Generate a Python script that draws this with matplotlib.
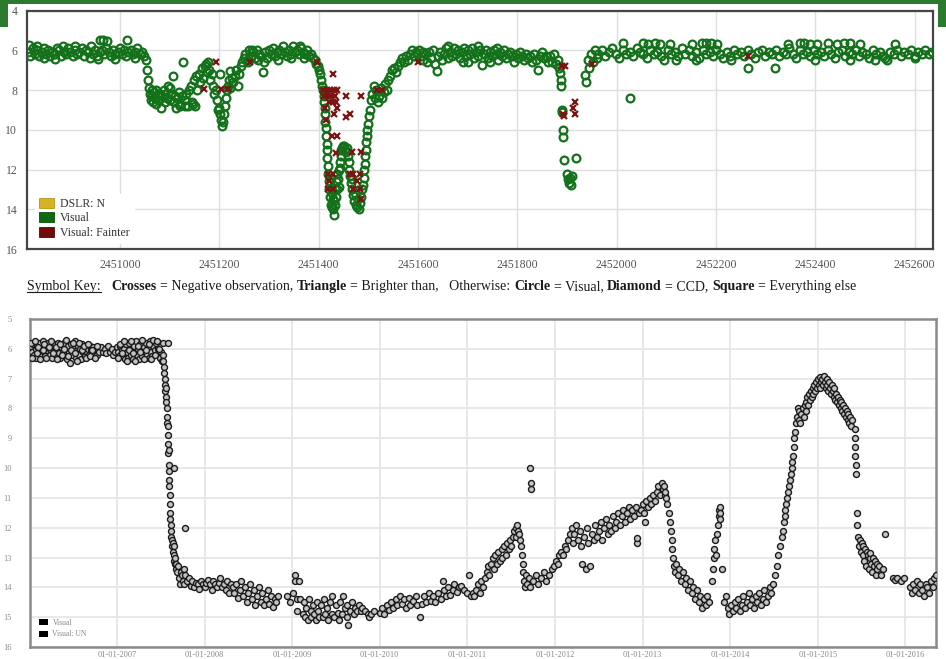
import numpy as np
import matplotlib
matplotlib.use("Agg")
import matplotlib.pyplot as plt
from matplotlib.patches import Patch, Rectangle

plt.rcParams['font.family'] = ['Liberation Serif', 'DejaVu Serif']

# ---------------- top light curve (JD - 2450000, magnitude) ----------------
JD0 = 2450000
vis_a = [(815, 6.1), (819, 6.3), (824, 5.9), (828, 6.2), (833, 6.0), (837, 6.3), (842, 6.1), (846, 5.9),
         (851, 6.2), (855, 6.0), (860, 6.3), (864, 6.1), (869, 6.2), (873, 5.9), (878, 6.0), (882, 6.3),
         (887, 6.1), (891, 6.2), (896, 5.9), (900, 6.1), (905, 6.3), (909, 6.0), (914, 6.2), (918, 6.1),
         (923, 5.9), (927, 6.3), (932, 6.0), (936, 6.1), (941, 5.8), (945, 6.2), (950, 6.0), (954, 6.3),
         (959, 6.1), (963, 6.0), (968, 6.2), (972, 5.9), (977, 6.1), (981, 6.3), (986, 6.0), (990, 6.2),
         (995, 6.1), (999, 5.9), (1004, 6.2), (1008, 6.0), (1013, 6.3), (1017, 6.1), (1022, 6.0),
         (1026, 6.2), (1031, 6.1), (1035, 5.9), (1040, 6.2), (1044, 6.1), (1048, 6.3),
         (817, 5.75), (832, 5.8), (846, 6.4), (870, 6.45), (910, 5.8), (955, 6.45), (960, 5.5),
         (966, 5.5), (974, 5.55), (990, 6.45), (1014, 5.5), (1030, 6.4), (885, 5.8), (940, 6.4)]
vis_b = [(1052, 6.5), (1054, 7.0), (1056, 7.5), (1058, 7.9), (1060, 8.2), (1062, 8.5), (1064, 8.3),
         (1066, 8.6), (1068, 8.1), (1070, 8.4), (1073, 8.7), (1076, 8.2), (1079, 8.5), (1082, 8.9),
         (1085, 8.3), (1088, 8.0), (1091, 8.6), (1094, 8.4), (1097, 7.8), (1100, 8.5), (1103, 8.2),
         (1106, 7.3), (1109, 8.6), (1112, 8.9), (1115, 8.4), (1118, 8.1), (1121, 8.7), (1124, 8.3),
         (1127, 6.6), (1130, 8.5), (1133, 8.2), (1136, 8.8), (1139, 8.0),
         (1065, 8.0), (1072, 8.0), (1080, 8.2), (1090, 8.2), (1100, 7.9), (1110, 8.3), (1120, 8.8),
         (1130, 8.8)]
vis_c = [(1142, 7.8), (1145, 8.6), (1147, 8.7), (1148, 7.5), (1150, 8.8), (1153, 7.3), (1156, 8.0),
         (1159, 7.2), (1162, 7.6), (1165, 6.9), (1168, 7.4), (1171, 6.8), (1174, 6.7), (1176, 7.1),
         (1178, 6.6), (1180, 7.0), (1182, 7.5), (1185, 7.2), (1188, 7.8), (1190, 8.2), (1193, 8.0),
         (1196, 8.5), (1197, 9.0), (1199, 8.9), (1201, 9.2), (1201, 7.2), (1203, 9.5), (1205, 9.8),
         (1207, 9.6), (1209, 9.2), (1211, 8.8), (1213, 8.4), (1215, 8.0), (1217, 7.8), (1219, 7.5),
         (1221, 7.05), (1222, 7.9), (1225, 7.4), (1228, 7.6), (1231, 7.3), (1234, 7.0), (1237, 7.8),
         (1240, 7.2), (1243, 6.8), (1246, 6.6), (1249, 6.4)]
vis_d = [(1252, 6.2), (1256, 6.5), (1260, 6.0), (1264, 6.3), (1268, 6.1), (1272, 6.4), (1276, 6.0),
         (1280, 6.2), (1288, 7.1), (1284, 6.3), (1292, 6.1), (1296, 6.4), (1300, 6.0), (1304, 6.2),
         (1308, 5.9), (1312, 6.3), (1316, 6.1), (1320, 6.0), (1324, 6.2), (1328, 5.8), (1332, 6.1),
         (1336, 6.3), (1340, 6.0), (1344, 6.2), (1348, 5.8), (1352, 6.1), (1356, 6.0), (1360, 6.2),
         (1364, 5.9), (1368, 6.1), (1372, 6.2), (1376, 6.0), (1380, 6.3),
         (1258, 6.6), (1266, 6.0), (1278, 6.5), (1290, 6.6), (1318, 6.5), (1345, 6.4), (1362, 5.8),
         (1370, 6.4)]
vis_e = [(1384, 6.2), (1388, 6.4), (1392, 6.5), (1395, 6.7), (1398, 6.8), (1401, 7.0), (1403, 7.2),
         (1405, 7.5), (1407, 7.8), (1409, 8.0), (1410, 8.3), (1411, 8.6), (1412, 8.9), (1413, 9.2),
         (1413, 9.6), (1414, 9.9), (1415, 10.3), (1416, 10.7), (1416, 11.0), (1417, 11.4), (1418, 11.8),
         (1419, 12.2), (1420, 12.6), (1421, 13.0), (1422, 13.4), (1423, 12.8), (1424, 13.8), (1425, 12.4),
         (1426, 13.2), (1427, 13.9), (1428, 13.5), (1429, 14.0), (1430, 14.3), (1431, 13.6), (1432, 13.0),
         (1433, 13.8), (1434, 12.6), (1435, 13.4), (1436, 12.2), (1437, 13.0), (1438, 12.5), (1440, 12.9),
         (1441, 12.0), (1442, 11.6), (1443, 11.9), (1444, 11.3), (1445, 11.0), (1447, 10.9), (1449, 10.8),
         (1451, 10.8), (1453, 11.0), (1455, 11.1), (1457, 10.9), (1459, 11.3), (1461, 11.6), (1462, 12.0),
         (1464, 12.3), (1465, 12.7), (1467, 13.0), (1468, 12.5), (1470, 13.3), (1472, 13.6), (1474, 13.2),
         (1476, 13.8), (1478, 13.9), (1480, 13.5), (1482, 14.0), (1484, 13.7), (1486, 13.4), (1488, 13.0),
         (1490, 12.8), (1491, 12.4), (1492, 12.0), (1493, 11.7), (1494, 11.3), (1495, 11.0), (1496, 10.6),
         (1497, 10.3), (1498, 10.0), (1499, 9.7), (1501, 9.3), (1503, 9.0), (1505, 8.5), (1508, 8.2),
         (1511, 7.8), (1513, 8.4), (1516, 8.0), (1519, 8.6), (1522, 8.3), (1525, 7.9), (1528, 8.4),
         (1531, 8.1), (1534, 7.7), (1537, 8.0), (1540, 7.5), (1543, 7.3), (1547, 7.0), (1551, 6.9),
         (1555, 7.1), (1559, 6.8), (1563, 6.6), (1567, 6.4), (1571, 6.6), (1575, 6.3), (1579, 6.5),
         (1583, 6.2), (1587, 6.0), (1591, 6.3), (1595, 6.1), (1599, 6.2)]
vis_f = [(1603, 6.0), (1607, 6.3), (1611, 6.5), (1615, 6.2), (1619, 6.6), (1623, 6.1), (1627, 6.4),
         (1631, 6.0), (1635, 6.7), (1638, 7.05), (1641, 6.3), (1645, 6.1), (1649, 6.5), (1653, 6.2),
         (1657, 5.9), (1661, 6.4), (1665, 6.1), (1669, 6.3), (1673, 5.9), (1677, 6.2), (1681, 6.0),
         (1685, 6.4), (1689, 6.1), (1693, 5.9), (1697, 6.3), (1701, 6.0), (1705, 6.2), (1709, 5.9),
         (1713, 6.4), (1717, 6.1), (1721, 6.3), (1725, 6.0), (1729, 6.75), (1733, 6.2), (1737, 6.0),
         (1741, 6.4), (1745, 6.1), (1749, 6.3), (1753, 6.0), (1757, 6.2), (1761, 6.5), (1765, 6.1),
         (1769, 6.3), (1773, 6.0), (1777, 6.4), (1781, 6.2), (1785, 6.1), (1789, 6.3), (1793, 6.6),
         (1797, 6.2), (1801, 6.4), (1805, 6.1), (1809, 6.3), (1813, 6.5), (1817, 6.2), (1821, 6.4),
         (1825, 6.3), (1829, 6.6), (1833, 6.2), (1837, 6.5), (1841, 7.0), (1845, 6.3), (1849, 6.1),
         (1853, 6.4), (1857, 6.3), (1861, 6.6),
         (1610, 6.1), (1660, 5.8), (1700, 6.6), (1720, 5.8), (1760, 5.9), (1690, 6.6), (1745, 6.6)]
vis_g = [(1865, 6.3), (1869, 6.6), (1873, 6.2), (1877, 6.7), (1881, 6.5), (1884, 6.9), (1886, 7.15),
         (1888, 7.5), (1888, 7.8), (1890, 9.0), (1890, 9.1), (1891, 10.0), (1891, 10.35), (1894, 11.5),
         (1900, 12.2), (1902, 12.5), (1904, 12.7), (1906, 12.4), (1908, 12.8), (1910, 12.3), (1918, 11.4),
         (1937, 7.25), (1938, 7.6), (1942, 6.5), (1945, 6.9), (1948, 6.2), (1952, 6.6), (1956, 6.0),
         (1960, 6.4)]
vis_h = [(1963, 6.2), (1970, 6.0), (1977, 6.3), (1984, 6.1), (1991, 5.9), (1998, 6.2), (2005, 6.4),
         (2012, 6.0), (2019, 6.2), (2026, 6.1), (2033, 6.3), (2040, 5.9), (2047, 6.1), (2054, 6.2),
         (2061, 6.4), (2068, 6.0), (2075, 6.2), (2082, 6.1), (2089, 6.3), (2096, 6.5), (2103, 6.0),
         (2110, 6.2), (2117, 6.1), (2124, 6.3), (2131, 5.9), (2138, 6.2), (2145, 6.0), (2152, 6.3),
         (2159, 6.1), (2166, 6.4), (2173, 6.0), (2180, 6.2), (2187, 6.1), (2194, 6.3), (2201, 6.0),
         (2208, 6.2), (2215, 6.4), (2222, 6.1), (2229, 6.3), (2236, 6.0), (2243, 6.2), (2250, 6.1),
         (2257, 6.3), (2264, 6.0), (2271, 6.2), (2278, 6.4), (2285, 6.1), (2292, 6.0), (2299, 6.3),
         (2306, 6.1), (2313, 6.2), (2320, 6.0), (2327, 6.3), (2334, 6.1), (2341, 6.2), (2348, 5.9),
         (2355, 6.2), (2362, 6.4), (2369, 6.0), (2376, 6.2), (2383, 6.1), (2390, 6.3), (2397, 6.0),
         (2404, 6.2), (2411, 6.1), (2418, 6.3), (2425, 6.0), (2432, 6.2), (2439, 6.4), (2446, 6.1),
         (2453, 6.0), (2460, 6.3), (2467, 6.1), (2474, 6.2), (2481, 6.0), (2488, 6.3), (2495, 6.1),
         (2502, 6.2), (2509, 6.4), (2516, 6.0), (2523, 6.2), (2530, 6.1), (2537, 6.3), (2544, 6.5),
         (2551, 6.1), (2558, 6.2), (2565, 6.0), (2572, 6.3), (2579, 6.1), (2586, 6.2), (2593, 6.0),
         (2600, 6.3), (2607, 6.1), (2614, 6.2), (2621, 6.0), (2628, 6.2), (2634, 6.1),
         (2013, 5.65), (2027, 8.4), (2053, 5.65), (2064, 5.7), (2078, 5.65), (2087, 5.7), (2107, 5.7),
         (2152, 5.7), (2172, 5.65), (2180, 5.65), (2190, 5.65), (2203, 5.7), (2120, 6.5), (2160, 6.5),
         (2230, 6.5), (2265, 6.9), (2319, 6.9), (2345, 5.7), (2369, 5.65), (2378, 5.65), (2390, 5.7),
         (2404, 5.7), (2426, 5.65), (2444, 5.7), (2458, 5.65), (2470, 5.65), (2490, 5.7), (2400, 6.5),
         (2470, 6.5), (2520, 6.5), (2560, 5.7), (2540, 6.4), (2600, 6.4)]
fainter = [(1169, 7.95), (1193, 6.6), (1203, 7.95), (1218, 7.95), (1262, 6.6), (1396, 6.6),
           (1428, 7.2), (1409, 8.0), (1416, 8.0), (1423, 8.0), (1430, 8.0), (1437, 8.0),
           (1411, 8.3), (1418, 8.3), (1425, 8.3), (1433, 8.3), (1421, 8.6), (1428, 8.6), (1435, 8.6),
           (1413, 8.9), (1436, 8.9), (1430, 9.2), (1456, 8.3), (1485, 8.3), (1456, 9.35), (1463, 9.2),
           (1415, 9.5), (1426, 10.3), (1436, 10.3), (1435, 11.15), (1467, 11.1), (1485, 11.1),
           (1419, 12.2), (1429, 12.2), (1421, 12.6), (1419, 13.0), (1429, 13.0), (1463, 12.2),
           (1470, 12.2), (1483, 12.2), (1477, 12.6), (1470, 13.0), (1483, 13.0), (1485, 13.5),
           (1517, 8.0), (1527, 8.0), (1600, 6.6), (1890, 6.8), (1896, 6.8), (1916, 8.6), (1913, 8.9),
           (1916, 9.2), (1892, 9.2), (1894, 9.3), (1950, 6.7), (2265, 6.3)]

top_xticks = [2451000, 2451200, 2451400, 2451600, 2451800, 2452000, 2452200, 2452400, 2452600]
top_yticks = [4, 6, 8, 10, 12, 14, 16]
top_legend = ['DSLR: N', 'Visual', 'Visual: Fainter']

# ---------------- bottom light curve (decimal year, magnitude) ----------------
low_a = [(2006.01, 6.0), (2006.02, 5.9), (2006.03, 6.1), (2006.045, 5.85), (2006.055, 6.2), (2006.07, 6.0),
         (2006.08, 6.3), (2006.09, 5.9), (2006.105, 6.1), (2006.115, 5.8), (2006.13, 6.2), (2006.14, 6.0),
         (2006.155, 5.75), (2006.165, 6.1), (2006.18, 6.25), (2006.19, 5.9), (2006.205, 6.05), (2006.215, 5.8),
         (2006.23, 6.2), (2006.24, 6.0), (2006.255, 6.3), (2006.265, 5.9), (2006.28, 6.1), (2006.29, 5.85),
         (2006.305, 6.2), (2006.315, 6.0), (2006.33, 5.8), (2006.34, 6.15), (2006.355, 6.3), (2006.365, 5.95),
         (2006.38, 6.1), (2006.39, 5.8), (2006.405, 6.2), (2006.415, 6.0), (2006.43, 6.35), (2006.44, 5.9),
         (2006.455, 6.1), (2006.465, 6.48), (2006.48, 5.85), (2006.49, 6.2), (2006.505, 6.0), (2006.515, 5.75),
         (2006.53, 6.3), (2006.54, 6.05), (2006.555, 5.9), (2006.565, 6.2), (2006.58, 6.0), (2006.59, 6.35),
         (2006.605, 5.85), (2006.615, 6.1), (2006.63, 6.25), (2006.64, 5.95), (2006.655, 6.1), (2006.665, 6.0),
         (2006.68, 6.2), (2006.69, 5.9), (2006.705, 6.05), (2006.715, 6.15), (2006.73, 5.95), (2006.74, 6.1),
         (2006.755, 6.0), (2006.77, 6.2), (2006.785, 6.0), (2006.80, 6.1), (2006.82, 5.95), (2006.84, 6.1),
         (2006.86, 6.0), (2006.88, 6.15), (2006.90, 5.9), (2006.92, 6.1), (2006.94, 6.0), (2006.96, 6.2),
         (2006.98, 6.1), (2007.00, 5.95), (2007.015, 6.1), (2007.03, 6.2), (2007.04, 5.9), (2007.055, 6.05),
         (2007.065, 6.25), (2007.08, 6.0), (2007.09, 6.35), (2007.105, 5.85), (2007.115, 6.1), (2007.13, 6.3),
         (2007.14, 5.8), (2007.155, 6.2), (2007.165, 6.0), (2007.18, 6.35), (2007.19, 5.9), (2007.205, 6.1),
         (2007.215, 5.75), (2007.23, 6.2), (2007.24, 6.0), (2007.255, 6.35), (2007.265, 5.85), (2007.28, 6.1),
         (2007.29, 6.25), (2007.305, 5.95), (2007.315, 6.1), (2007.33, 5.8), (2007.34, 6.2), (2007.355, 6.0),
         (2007.365, 6.3), (2007.38, 5.75), (2007.39, 6.1), (2007.405, 6.25), (2007.415, 5.9), (2007.43, 6.05),
         (2007.44, 5.8), (2007.455, 6.2), (2007.465, 6.0), (2007.48, 6.15), (2007.49, 6.3), (2007.50, 6.1),
         (2007.51, 6.4), (2007.52, 5.8), (2007.58, 5.8)]
low_a2 = [(2006.015, 5.8), (2006.035, 6.3), (2006.06, 5.75), (2006.085, 6.15), (2006.10, 5.95), (2006.125, 6.35),
          (2006.15, 6.05), (2006.17, 5.85), (2006.195, 6.3), (2006.22, 5.95), (2006.245, 5.75), (2006.27, 6.15),
          (2006.30, 5.95), (2006.32, 6.35), (2006.345, 5.85), (2006.37, 6.2), (2006.395, 6.0), (2006.42, 5.7),
          (2006.445, 6.25), (2006.47, 6.05), (2006.495, 5.8), (2006.52, 6.15), (2006.545, 6.4), (2006.57, 5.8),
          (2006.595, 6.05), (2006.62, 5.9), (2006.645, 6.3), (2006.67, 5.85), (2006.695, 6.25), (2006.72, 6.05),
          (2006.75, 6.3), (2006.775, 5.9), (2007.01, 6.3), (2007.035, 5.85), (2007.06, 6.15), (2007.085, 5.75),
          (2007.11, 6.4), (2007.135, 6.05), (2007.16, 5.75), (2007.185, 6.15), (2007.21, 6.4), (2007.235, 5.9),
          (2007.26, 6.1), (2007.285, 5.7), (2007.31, 6.35), (2007.335, 6.05), (2007.36, 5.85), (2007.385, 6.35),
          (2007.41, 5.7), (2007.435, 6.2), (2007.46, 5.75), (2007.485, 6.0)]
low_b = [(2007.525, 6.2), (2007.525, 6.4), (2007.537, 6.6), (2007.537, 6.8), (2007.548, 7.0), (2007.548, 7.2),
         (2007.548, 7.4), (2007.56, 7.3), (2007.56, 7.6), (2007.56, 7.8), (2007.571, 8.0), (2007.571, 8.3),
         (2007.571, 8.5), (2007.582, 8.6), (2007.582, 8.9), (2007.582, 9.2), (2007.582, 9.5), (2007.588, 9.4),
         (2007.588, 9.9), (2007.594, 10.1), (2007.594, 10.4), (2007.594, 10.6), (2007.60, 10.9), (2007.60, 11.2),
         (2007.605, 11.5), (2007.605, 11.7), (2007.616, 11.9), (2007.616, 12.1), (2007.616, 12.3),
         (2007.628, 12.4), (2007.628, 12.6), (2007.64, 12.5), (2007.64, 12.8), (2007.65, 12.9), (2007.65, 13.1),
         (2007.65, 12.6), (2007.662, 13.2), (2007.662, 13.0), (2007.674, 13.4), (2007.674, 13.2),
         (2007.65, 10.0), (2007.776, 12.0)]
low_c = [(2007.69, 13.5), (2007.70, 13.3), (2007.71, 13.7), (2007.72, 13.9), (2007.73, 13.5), (2007.74, 13.6),
         (2007.75, 13.8), (2007.76, 13.4), (2007.77, 13.9), (2007.78, 13.6), (2007.80, 13.8), (2007.82, 13.7),
         (2007.84, 13.95), (2007.86, 13.8), (2007.88, 14.0), (2007.90, 13.85), (2007.92, 13.9), (2007.94, 14.05),
         (2007.96, 13.8), (2007.98, 13.9), (2008.00, 14.0), (2008.02, 13.85), (2008.04, 13.75), (2008.06, 13.9),
         (2008.08, 14.1), (2008.10, 13.8), (2008.12, 13.9), (2008.14, 14.0), (2008.16, 13.85), (2008.18, 13.7),
         (2008.20, 14.0), (2008.22, 13.9), (2008.24, 14.1), (2008.26, 13.8), (2008.28, 14.2), (2008.30, 13.9),
         (2008.32, 14.0), (2008.34, 14.2), (2008.36, 13.9), (2008.38, 14.35), (2008.40, 14.1), (2008.42, 13.8),
         (2008.44, 14.3), (2008.46, 14.0), (2008.48, 14.5), (2008.50, 14.2), (2008.52, 13.9), (2008.54, 14.4),
         (2008.56, 14.1), (2008.58, 14.6), (2008.60, 14.3), (2008.62, 14.0), (2008.64, 14.5), (2008.66, 14.2),
         (2008.68, 14.6), (2008.70, 14.4), (2008.72, 14.1), (2008.74, 14.55), (2008.76, 14.3), (2008.78, 14.65),
         (2008.80, 14.4), (2008.82, 14.5), (2008.84, 14.3)]
low_d = [(2008.94, 14.3), (2008.98, 14.5), (2009.01, 14.2), (2009.03, 13.6), (2009.03, 13.8), (2009.05, 14.4),
         (2009.06, 14.8), (2009.08, 13.8), (2009.09, 14.4), (2009.12, 14.9), (2009.13, 14.5), (2009.15, 15.0),
         (2009.16, 14.7), (2009.18, 15.1), (2009.19, 14.4), (2009.21, 14.8), (2009.22, 15.0), (2009.24, 14.6),
         (2009.25, 14.9), (2009.27, 15.1), (2009.28, 14.5), (2009.30, 14.8), (2009.31, 15.0), (2009.33, 14.6),
         (2009.35, 15.0), (2009.36, 14.4), (2009.38, 14.9), (2009.40, 14.7), (2009.41, 15.1), (2009.43, 14.5),
         (2009.45, 14.9), (2009.46, 14.3), (2009.48, 15.0), (2009.50, 14.6), (2009.52, 14.85), (2009.53, 15.1),
         (2009.55, 14.5), (2009.57, 14.9), (2009.58, 14.3), (2009.60, 14.7), (2009.62, 15.0), (2009.63, 14.6),
         (2009.64, 15.27), (2009.66, 14.8), (2009.68, 14.5), (2009.70, 14.9), (2009.72, 14.7), (2009.74, 14.8),
         (2009.76, 14.6), (2009.78, 14.8), (2009.80, 14.7), (2009.83, 14.8), (2009.86, 14.9), (2009.88, 15.0),
         (2009.90, 14.9), (2009.93, 14.8)]
low_e = [(2010.00, 14.85), (2010.03, 14.7), (2010.05, 14.9), (2010.08, 14.6), (2010.10, 14.75), (2010.13, 14.5),
         (2010.15, 14.7), (2010.18, 14.4), (2010.20, 14.6), (2010.23, 14.3), (2010.25, 14.55), (2010.28, 14.4),
         (2010.30, 14.7), (2010.33, 14.35), (2010.35, 14.6), (2010.38, 14.45), (2010.41, 14.3), (2010.43, 14.6),
         (2010.46, 15.0), (2010.48, 14.55), (2010.51, 14.3), (2010.53, 14.5), (2010.56, 14.2), (2010.58, 14.45),
         (2010.61, 14.3), (2010.63, 14.5), (2010.66, 14.2), (2010.70, 14.4), (2010.72, 13.8), (2010.73, 14.1),
         (2010.75, 14.3), (2010.78, 14.0), (2010.80, 14.25), (2010.83, 14.1), (2010.85, 13.9), (2010.88, 14.15),
         (2010.90, 14.0), (2010.93, 13.95), (2010.96, 14.1), (2011.00, 14.2), (2011.02, 13.6), (2011.04, 14.3),
         (2011.06, 14.2), (2011.08, 14.3), (2011.10, 14.1), (2011.12, 13.9), (2011.14, 14.2), (2011.16, 13.8),
         (2011.18, 14.0)]
low_f = [(2011.20, 13.7), (2011.22, 13.5), (2011.24, 13.3), (2011.25, 13.6), (2011.27, 13.2), (2011.29, 13.0),
         (2011.30, 13.4), (2011.32, 12.9), (2011.34, 13.2), (2011.35, 12.8), (2011.37, 13.1), (2011.39, 12.7),
         (2011.40, 13.0), (2011.42, 12.6), (2011.44, 12.9), (2011.45, 12.5), (2011.47, 12.7), (2011.49, 12.4),
         (2011.50, 12.6), (2011.52, 12.3), (2011.53, 12.1), (2011.55, 12.3), (2011.56, 12.0), (2011.57, 11.9),
         (2011.58, 12.1), (2011.59, 12.2), (2011.60, 12.4), (2011.61, 12.6), (2011.62, 12.9), (2011.63, 13.2),
         (2011.64, 13.5), (2011.65, 13.8), (2011.66, 14.0), (2011.67, 13.6), (2011.68, 13.9), (2011.70, 13.7),
         (2011.72, 14.0), (2011.72, 10.0), (2011.73, 10.5), (2011.73, 10.7), (2011.75, 13.8), (2011.78, 13.6),
         (2011.81, 13.9), (2011.84, 13.7), (2011.87, 13.5), (2011.90, 13.8), (2011.93, 13.6), (2011.96, 13.4)]
low_g = [(2011.99, 13.3), (2012.01, 13.1), (2012.03, 13.2), (2012.05, 12.9), (2012.07, 12.8), (2012.09, 12.9),
         (2012.11, 12.6), (2012.13, 12.7), (2012.15, 12.4), (2012.17, 12.2), (2012.19, 12.0), (2012.20, 12.5),
         (2012.22, 12.2), (2012.24, 11.9), (2012.26, 12.4), (2012.28, 12.1), (2012.30, 12.6), (2012.31, 13.2),
         (2012.33, 12.3), (2012.35, 13.4), (2012.36, 12.0), (2012.38, 12.5), (2012.40, 13.3), (2012.42, 12.2),
         (2012.44, 12.4), (2012.46, 11.9), (2012.48, 12.3), (2012.50, 12.1), (2012.52, 11.8), (2012.54, 12.4),
         (2012.56, 12.0), (2012.58, 11.7), (2012.60, 12.2), (2012.62, 11.9), (2012.64, 12.1), (2012.66, 11.6),
         (2012.68, 12.0), (2012.70, 11.8), (2012.72, 11.5), (2012.74, 11.9), (2012.76, 11.6), (2012.78, 11.4),
         (2012.80, 11.8), (2012.82, 11.5), (2012.84, 11.3), (2012.86, 11.7), (2012.88, 11.4), (2012.90, 11.6),
         (2012.92, 11.3), (2012.94, 12.5), (2012.94, 12.35), (2012.96, 11.5)]
low_h = [(2012.98, 11.4), (2013.00, 11.2), (2013.02, 11.5), (2013.03, 11.8), (2013.04, 11.1), (2013.06, 11.3),
         (2013.08, 11.0), (2013.10, 11.2), (2013.12, 10.9), (2013.14, 11.1), (2013.16, 10.8), (2013.18, 10.6),
         (2013.20, 10.9), (2013.22, 10.5), (2013.23, 10.7), (2013.24, 10.6), (2013.25, 10.9), (2013.26, 10.8),
         (2013.27, 11.0), (2013.28, 11.2), (2013.30, 11.5), (2013.31, 11.8), (2013.32, 12.1), (2013.33, 12.4),
         (2013.34, 12.7), (2013.35, 13.0), (2013.36, 13.3), (2013.37, 13.5), (2013.38, 13.2), (2013.40, 13.6),
         (2013.42, 13.4), (2013.44, 13.8), (2013.46, 13.5), (2013.48, 13.9), (2013.50, 13.7), (2013.52, 14.1),
         (2013.54, 13.8), (2013.56, 14.2), (2013.58, 14.0), (2013.60, 14.4), (2013.62, 14.1), (2013.64, 14.5),
         (2013.66, 14.3), (2013.68, 14.7), (2013.70, 14.4), (2013.72, 14.6), (2013.74, 14.3), (2013.76, 14.5),
         (2013.79, 13.8), (2013.80, 13.4), (2013.81, 13.0), (2013.82, 12.7), (2013.83, 12.4), (2013.84, 12.9),
         (2013.85, 12.2), (2013.86, 11.9), (2013.87, 11.6), (2013.87, 11.4), (2013.88, 11.3), (2013.88, 11.5),
         (2013.88, 11.7), (2013.91, 13.4)]
low_i = [(2013.93, 14.5), (2013.95, 14.3), (2013.97, 14.7), (2013.99, 14.9), (2014.01, 14.6), (2014.03, 14.8),
         (2014.05, 14.5), (2014.07, 14.7), (2014.09, 14.4), (2014.11, 14.8), (2014.13, 14.6), (2014.15, 14.3),
         (2014.17, 14.7), (2014.19, 14.5), (2014.21, 14.2), (2014.23, 14.6), (2014.25, 14.4), (2014.27, 14.7),
         (2014.29, 14.3), (2014.31, 14.5), (2014.33, 14.2), (2014.35, 14.6), (2014.37, 14.4), (2014.39, 14.1),
         (2014.41, 14.5), (2014.43, 14.3), (2014.45, 14.0), (2014.47, 14.2), (2014.49, 13.9), (2014.51, 13.6),
         (2014.53, 13.3), (2014.55, 12.9), (2014.57, 12.6), (2014.59, 12.3), (2014.60, 12.1), (2014.61, 11.8),
         (2014.62, 11.6), (2014.63, 11.4), (2014.64, 11.2), (2014.65, 11.0), (2014.66, 10.8), (2014.67, 10.6),
         (2014.68, 10.4), (2014.69, 10.2), (2014.70, 10.0), (2014.71, 9.8), (2014.72, 9.6), (2014.725, 9.3),
         (2014.73, 9.0), (2014.74, 8.8), (2014.75, 8.5), (2014.76, 8.3), (2014.77, 8.0)]
low_j = [(2014.78, 8.4), (2014.79, 8.1), (2014.80, 8.5), (2014.81, 8.2), (2014.83, 8.0), (2014.84, 8.3),
         (2014.85, 7.9), (2014.86, 8.1), (2014.87, 7.8), (2014.88, 7.6), (2014.89, 7.9), (2014.90, 7.5),
         (2014.91, 7.7), (2014.92, 7.4), (2014.93, 7.6), (2014.94, 7.3), (2014.95, 7.5), (2014.96, 7.2),
         (2014.97, 7.4), (2014.98, 7.1), (2014.99, 7.3), (2015.00, 7.0), (2015.01, 7.2), (2015.02, 6.95),
         (2015.03, 7.3), (2015.04, 7.1), (2015.05, 7.0), (2015.06, 7.2), (2015.07, 6.9), (2015.08, 7.1),
         (2015.09, 7.3), (2015.10, 7.0), (2015.11, 7.2), (2015.12, 7.4), (2015.13, 7.1), (2015.14, 7.3),
         (2015.15, 7.5), (2015.16, 7.2), (2015.17, 7.4), (2015.18, 7.6), (2015.19, 7.3), (2015.20, 7.7),
         (2015.21, 7.5), (2015.22, 7.8), (2015.23, 7.6), (2015.24, 7.9), (2015.25, 7.7), (2015.26, 8.0),
         (2015.27, 7.8), (2015.28, 8.1), (2015.29, 7.9), (2015.30, 8.2), (2015.31, 8.0), (2015.32, 8.3),
         (2015.33, 8.1), (2015.34, 8.4), (2015.35, 8.2), (2015.36, 8.5), (2015.37, 8.3), (2015.38, 8.6),
         (2015.39, 8.4), (2015.42, 8.7), (2015.42, 9.0), (2015.43, 9.3), (2015.43, 9.6), (2015.435, 9.9),
         (2015.44, 10.2), (2015.45, 11.5), (2015.45, 11.9)]
low_k = [(2015.46, 12.3), (2015.47, 12.6), (2015.48, 12.4), (2015.49, 12.8), (2015.50, 12.5), (2015.51, 12.9),
         (2015.52, 12.6), (2015.53, 13.1), (2015.54, 12.7), (2015.55, 13.3), (2015.56, 12.8), (2015.57, 12.9),
         (2015.58, 13.4), (2015.59, 13.0), (2015.60, 12.85), (2015.61, 13.2), (2015.62, 13.5), (2015.63, 13.0),
         (2015.64, 13.3), (2015.65, 13.1), (2015.66, 13.6), (2015.67, 13.2), (2015.68, 13.4), (2015.70, 13.3),
         (2015.72, 13.6), (2015.74, 13.4), (2015.77, 12.2), (2015.86, 13.7), (2015.88, 13.75), (2015.90, 13.7),
         (2015.95, 13.8), (2015.98, 13.7), (2016.05, 14.0), (2016.07, 14.2), (2016.09, 13.9), (2016.11, 14.1),
         (2016.13, 13.8), (2016.15, 14.2), (2016.17, 13.9), (2016.19, 14.1), (2016.21, 14.3), (2016.23, 13.9),
         (2016.25, 14.0), (2016.27, 14.2), (2016.29, 13.8), (2016.31, 14.0), (2016.33, 13.7), (2016.35, 13.6)]

low_years = [2007, 2008, 2009, 2010, 2011, 2012, 2013, 2014, 2015, 2016]
low_yticks = list(range(5, 17))
low_legend = ['Visual', 'Visual: UN']

key_parts = [("Symbol Key:", 'normal'), ("Crosses", 'bold'), (" = Negative observation, ", 'normal'),
             ("Triangle", 'bold'), (" = Brighter than,   Otherwise: ", 'normal'), ("Circle", 'bold'),
             (" = Visual, ", 'normal'), ("Diamond", 'bold'), (" = CCD, ", 'normal'), ("Square", 'bold'),
             (" = Everything else", 'normal')]

# ---------------- figure ----------------
W, H = 946, 659
fig = plt.figure(figsize=(W / 100, H / 100), dpi=100)
GREEN = '#2b7a2e'

# green page header
for x0, y0, w, h in [(0, 0, 946, 4), (0, 0, 8, 27), (938, 0, 8, 27)]:
    fig.add_artist(Rectangle((x0 / W, 1 - (y0 + h) / H), w / W, h / H,
                             transform=fig.transFigure, color=GREEN, lw=0, zorder=0))

# top chart
ax1 = fig.add_axes([27 / W, 1 - 249 / H, 906 / W, (249 - 10.7) / H])
vis = np.array(vis_a + vis_b + vis_c + vis_d + vis_e + vis_f + vis_g + vis_h)
fnt = np.array(fainter)
ax1.plot(vis[:, 0] + JD0, vis[:, 1], 'o', ls='none', ms=5.6, mfc='none', mec='#13711a', mew=1.6, zorder=3)
ax1.plot(fnt[:, 0] + JD0, fnt[:, 1], 'x', ls='none', ms=4.2, mec='#7d1414', mew=1.6, zorder=4)
ax1.set_xlim(2450812.7, 2452637)
ax1.set_ylim(16, 4)
ax1.set_xticks(top_xticks)
ax1.set_xticklabels([str(t) for t in top_xticks])
ax1.set_yticks(top_yticks)
ax1.grid(color='#dedede', lw=1)
ax1.set_axisbelow(True)
ax1.tick_params(length=0, labelsize=8.5, labelcolor='#555555', pad=7)
for s in ax1.spines.values():
    s.set_color('#454545')
    s.set_linewidth(1.6)
handles = [Patch(fc='#d6b324', ec='#b8961a', lw=0.6), Patch(fc='#0d6b0d', ec='#0a4f0a', lw=0.6),
           Patch(fc='#6e0b0b', ec='#4e0808', lw=0.6)]
leg = ax1.legend(handles, top_legend, loc='lower left', bbox_to_anchor=(0.002, 0.0), fontsize=8.5,
                 handlelength=1.3, handleheight=0.9, handletextpad=0.5, labelspacing=0.22,
                 borderpad=0.35, frameon=True, fancybox=False, framealpha=1, edgecolor='white')
for t in leg.get_texts():
    t.set_color('#333333')

# symbol key line
KEY_FS = 10.0
renderer = fig.canvas.get_renderer()
def text_width(s, weight):
    t = fig.text(0, 0, s, fontsize=KEY_FS, fontweight=weight)
    w = t.get_window_extent(renderer).width
    t.remove()
    return w
space_w = text_width('a a', 'normal') - text_width('aa', 'normal')
xpos = 27.0
ybase = 1 - 290 / H
for i, (s, weight) in enumerate(key_parts):
    lead = len(s) - len(s.lstrip(' '))
    trail = len(s) - len(s.rstrip(' '))
    core = s.strip(' ')
    xpos += lead * space_w
    fig.text(xpos / W, ybase, core, fontsize=KEY_FS, fontweight=weight, color='#1a1a1a', va='baseline')
    w = text_width(core, weight)
    if i == 0:
        fig.add_artist(plt.Line2D([xpos / W, (xpos + w) / W], [ybase - 2 / H, ybase - 2 / H],
                                  transform=fig.transFigure, color='#1a1a1a', lw=0.8))
        w += 3 * space_w
    xpos += w + trail * space_w

# bottom chart
ax2 = fig.add_axes([30 / W, 1 - 647 / H, 906 / W, (647 - 319) / H])
low = np.array(low_a + low_a2 + low_b + low_c + low_d + low_e + low_f + low_g + low_h + low_i + low_j + low_k)
ax2.plot(low[:, 0], low[:, 1], 'o', ls='none', ms=4.3, mfc='#c4c4c4', mec='#1a1a1a', mew=1.0, zorder=3)
ax2.set_xlim(2006.007, 2016.349)
ax2.set_ylim(16, 5)
ax2.set_xticks(low_years)
ax2.set_xticklabels(['01-01-%d' % y for y in low_years])
ax2.set_yticks(low_yticks)
ax2.grid(color='#e6e6e6', lw=1.3)
ax2.set_axisbelow(True)
ax2.tick_params(length=0, labelsize=6, labelcolor='#8a8a8a')
ax2.tick_params(axis='y', pad=13)
ax2.tick_params(axis='x', pad=3)
for s in ax2.spines.values():
    s.set_color('#8a8a8a')
    s.set_linewidth(1.8)
leg2 = ax2.legend([Patch(fc='black'), Patch(fc='black')], low_legend, loc='lower left',
                  bbox_to_anchor=(0.002, 0.005), fontsize=5.5, handlelength=1.2, handleheight=0.9,
                  handletextpad=0.6, labelspacing=0.5, frameon=False)
for t in leg2.get_texts():
    t.set_color('#8a8a8a')

fig.savefig('out.png', dpi=100)
